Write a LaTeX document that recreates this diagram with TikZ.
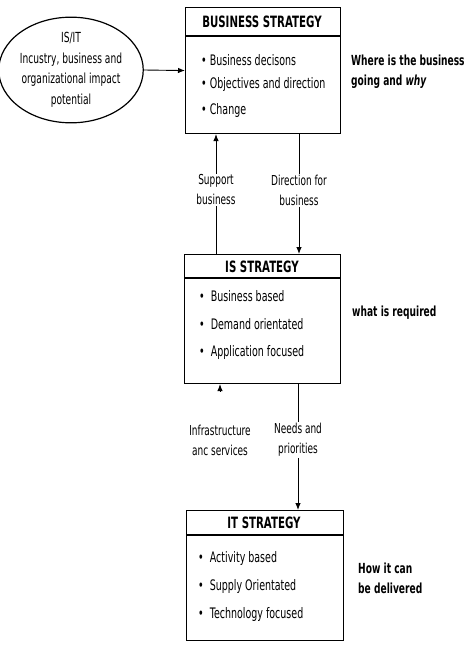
\documentclass[tikz,border=0pt]{standalone}
\usepackage{fontspec}
\setmainfont{DejaVu Sans}[FakeStretch=0.655]
\usetikzlibrary{shapes.geometric,arrows.meta}
\tikzset{
  box/.style={draw, line width=1.1pt, rectangle, anchor=north west, inner sep=0pt},
  hdr/.style={line width=1.4pt},
  ttl/.style={font=\fontsize{15.6}{17}\selectfont\bfseries, inner sep=0pt},
  item/.style={font=\fontsize{14.5}{16}\selectfont, anchor=west, inner sep=0pt},
  side/.style={font=\fontsize{13.9}{20}\selectfont\bfseries, anchor=west, align=left, inner sep=0pt},
  lbl/.style={font=\fontsize{13.7}{20}\selectfont, align=center, inner sep=1pt},
  conn/.style={line width=0.9pt},
  arr/.style={line width=0.9pt, -{Latex[length=7pt,width=5.5pt]}},
}
\begin{document}
\begin{tikzpicture}[x=1pt,y=-1pt]
\useasboundingbox (0,0) rectangle (467,645);
% ellipse
\node[draw, ellipse, line width=1.2pt, minimum width=138pt, minimum height=96pt, inner sep=0pt,
      font=\fontsize{13.9}{20.5}\selectfont, align=center] (ell) at (71,70)
      {IS/IT\\Incustry, business and\\organizational impact\\potential};
% business strategy
\node[box, minimum width=155pt, minimum height=126pt] (bs) at (185,7) {};
\draw[hdr] ([yshift=-29pt]bs.north west) -- ([yshift=-29pt]bs.north east);
\node[ttl] (bst) at (262,22) {BUSINESS STRATEGY};
\node[item] (b1) at (201,60) {\textbullet\ Business decisons};
\node[item] (b2) at (201,84) {\textbullet\ Objectives and direction};
\node[item] (b3) at (201,110) {\textbullet\ Change};
\node[side] (bside) at (351,72) {Where is the business\\going and \textit{why}};
% IS strategy
\node[box, minimum width=156pt, minimum height=129pt] (is) at (184,254) {};
\draw[hdr] ([yshift=-24pt]is.north west) -- ([yshift=-24pt]is.north east);
\node[ttl] (ist) at (262,267) {IS STRATEGY};
\node[item] (i1) at (199,296) {\textbullet\ \ Business based};
\node[item] (i2) at (199,324) {\textbullet\ \ Demand orientated};
\node[item] (i3) at (199,352) {\textbullet\ \ Application focused};
\node[side] (iside) at (352,313) {what is required};
% IT strategy
\node[box, minimum width=157pt, minimum height=130pt] (it) at (186,510) {};
\draw[hdr] ([yshift=-25pt]it.north west) -- ([yshift=-25pt]it.north east);
\node[ttl] (itt) at (264,523) {IT STRATEGY};
\node[item] (t1) at (198,558) {\textbullet\ \ Activity based};
\node[item] (t2) at (198,586) {\textbullet\ \ Supply Orientated};
\node[item] (t3) at (198,614) {\textbullet\ \ Technology focused};
\node[side] (tside) at (358,578) {How it can\\be delivered};
% connectors
\draw[arr] (ell.east) -- (bs.west);
\node[lbl] (sup) at (216,190) {Support\\business};
\draw[conn] (sup |- is.north) -- (sup.south);
\draw[arr] (sup.north) -- (sup |- bs.south);
\node[lbl] (dir) at (299,190) {Direction for\\business};
\draw[conn] (dir |- bs.south) -- (dir.north);
\draw[arr] (dir.south) -- (dir |- is.north);
\node[lbl] (inf) at (220,440) {Infrastructure\\anc services};
\coordinate (infs) at (220,391);
\draw[arr] (infs) -- (inf |- is.south);
\node[lbl] (need) at (298,440) {Needs and\\priorities};
\draw[conn] (need |- is.south) -- (need.north);
\draw[arr] (need.south) -- (need |- it.north);
\end{tikzpicture}
\end{document}
